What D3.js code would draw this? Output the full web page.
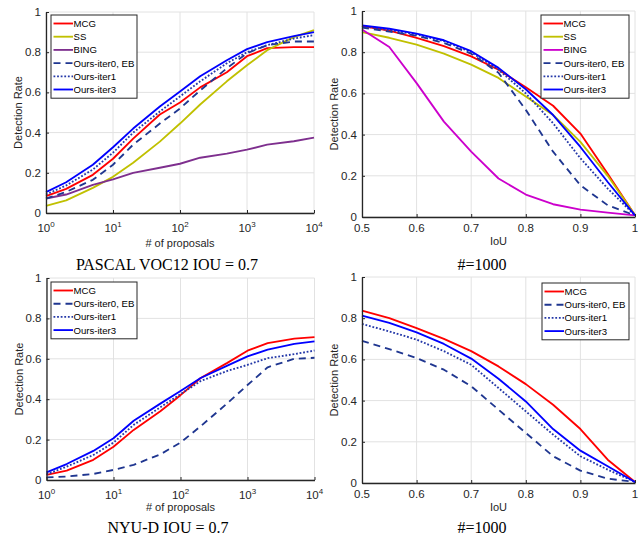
<!DOCTYPE html>
<html>
<head>
<meta charset="utf-8">
<script src="https://cdn.jsdelivr.net/npm/d3@7/dist/d3.min.js"></script>
<style>
  html, body { margin: 0; padding: 0; background: #fff; }
  svg { display: block; }
</style>
</head>
<body>
<svg id="chart" width="644" height="536"></svg>
<script>
// ---------------- DATA ----------------
const proposals = [1, 2, 5, 10, 20, 50, 100, 200, 500, 1000, 2000, 5000, 10000];
const iouValues = [0.5, 0.55, 0.6, 0.65, 0.7, 0.75, 0.8, 0.85, 0.9, 0.95, 1.0];

const logTickValues = [1, 10, 100, 1000, 10000];
const logTickExponents = ["0", "1", "2", "3", "4"];
const iouTickValues = [0.5, 0.6, 0.7, 0.8, 0.9, 1];
const iouTickLabels = ["0.5", "0.6", "0.7", "0.8", "0.9", "1"];
const rateTickValues = [0, 0.2, 0.4, 0.6, 0.8, 1];
const rateTickLabels = ["0", "0.2", "0.4", "0.6", "0.8", "1"];

// PASCAL VOC12, IoU = 0.7, vs # of proposals
const vocPropMCG   = [0.084, 0.12, 0.19, 0.27, 0.37, 0.49, 0.55, 0.625, 0.70, 0.78, 0.82, 0.825, 0.825];
const vocPropSS    = [0.035, 0.063, 0.125, 0.18, 0.25, 0.355, 0.445, 0.54, 0.655, 0.735, 0.81, 0.875, 0.91];
const vocPropBING  = [0.072, 0.092, 0.14, 0.167, 0.20, 0.225, 0.245, 0.275, 0.295, 0.315, 0.34, 0.357, 0.375];
const vocPropIter0 = [0.071, 0.105, 0.165, 0.24, 0.34, 0.445, 0.52, 0.61, 0.72, 0.795, 0.835, 0.853, 0.853];
const vocPropIter1 = [0.092, 0.137, 0.216, 0.30, 0.40, 0.505, 0.58, 0.655, 0.745, 0.80, 0.835, 0.868, 0.885];
const vocPropIter3 = [0.104, 0.153, 0.24, 0.327, 0.42, 0.53, 0.605, 0.68, 0.76, 0.815, 0.85, 0.88, 0.90];

// PASCAL VOC12, # = 1000, vs IoU
const vocIouMCG   = [0.927, 0.905, 0.87, 0.83, 0.78, 0.715, 0.63, 0.54, 0.405, 0.21, 0.008];
const vocIouSS    = [0.897, 0.87, 0.837, 0.793, 0.74, 0.675, 0.585, 0.495, 0.365, 0.20, 0.01];
const vocIouBING  = [0.91, 0.825, 0.65, 0.463, 0.317, 0.187, 0.109, 0.062, 0.036, 0.021, 0.008];
const vocIouIter0 = [0.92, 0.90, 0.88, 0.845, 0.793, 0.70, 0.52, 0.317, 0.154, 0.057, 0.008];
const vocIouIter1 = [0.927, 0.907, 0.886, 0.854, 0.80, 0.715, 0.60, 0.455, 0.285, 0.138, 0.008];
const vocIouIter3 = [0.93, 0.914, 0.89, 0.858, 0.805, 0.724, 0.62, 0.495, 0.34, 0.17, 0.008];

// NYU-D, IoU = 0.7, vs # of proposals
const nyuPropMCG   = [0.025, 0.046, 0.10, 0.165, 0.248, 0.34, 0.42, 0.505, 0.58, 0.64, 0.678, 0.70, 0.707];
const nyuPropIter0 = [0.013, 0.017, 0.03, 0.05, 0.075, 0.127, 0.185, 0.266, 0.38, 0.47, 0.558, 0.60, 0.605];
const nyuPropIter1 = [0.028, 0.066, 0.124, 0.185, 0.273, 0.36, 0.425, 0.49, 0.54, 0.57, 0.603, 0.623, 0.641];
const nyuPropIter3 = [0.038, 0.079, 0.144, 0.207, 0.293, 0.378, 0.441, 0.505, 0.566, 0.612, 0.645, 0.674, 0.686];

// NYU-D, # = 1000, vs IoU
const nyuIouMCG   = [0.837, 0.80, 0.752, 0.70, 0.64, 0.566, 0.48, 0.38, 0.262, 0.113, 0.005];
const nyuIouIter0 = [0.69, 0.65, 0.607, 0.55, 0.47, 0.356, 0.243, 0.13, 0.06, 0.021, 0.005];
const nyuIouIter1 = [0.772, 0.736, 0.696, 0.64, 0.574, 0.461, 0.348, 0.235, 0.13, 0.065, 0.005];
const nyuIouIter3 = [0.812, 0.777, 0.731, 0.675, 0.604, 0.506, 0.396, 0.262, 0.157, 0.081, 0.005];

const xLabelProposals = "# of proposals";
const xLabelIoU = "IoU";
const yLabel = "Detection Rate";
const panelTitles = ["PASCAL VOC12 IOU = 0.7", "#=1000", "NYU-D IOU = 0.7", "#=1000"];

// ---------------- STYLES ----------------
const styleMap = {
  "MCG":            { color: "#ff0000", dash: null },
  "SS":             { color: "#c0c000", dash: null },
  "BING":           { color: "#7e2f8e", dash: null },
  "Ours-iter0, EB": { color: "#1f3690", dash: "7,5" },
  "Ours-iter1":     { color: "#2438a8", dash: "1.8,1.8" },
  "Ours-iter3":     { color: "#0000ff", dash: null }
};
const bingMagenta = "#cc00cc";

const svg = d3.select("#chart");
const FONT = "'Liberation Sans', Arial, Helvetica, sans-serif";
const SERIF = "'Liberation Serif', 'Times New Roman', serif";
const AXIS_COLOR = "#262626";
const GRID_COLOR = "#e2e2e2";
const LINE_W = 1.85;

function drawPanel(cfg) {
  const g = svg.append("g");
  const x = cfg.log
    ? d3.scaleLog().domain([1, 10000]).range([cfg.left, cfg.right])
    : d3.scaleLinear().domain([0.5, 1]).range([cfg.left, cfg.right]);
  const y = d3.scaleLinear().domain([0, 1]).range([cfg.bottom, cfg.top]);
  const xTicks = cfg.log ? logTickValues : iouTickValues;

  // grid
  const grid = g.append("g");
  grid.selectAll("line.vx").data(xTicks).join("line")
    .attr("x1", d => x(d)).attr("x2", d => x(d))
    .attr("y1", cfg.top).attr("y2", cfg.bottom)
    .attr("stroke", GRID_COLOR).attr("stroke-width", 1);
  grid.selectAll("line.hy").data(rateTickValues).join("line")
    .attr("x1", cfg.left).attr("x2", cfg.right)
    .attr("y1", d => y(d)).attr("y2", d => y(d))
    .attr("stroke", GRID_COLOR).attr("stroke-width", 1);

  // series
  const clipId = "clip" + cfg.id;
  g.append("clipPath").attr("id", clipId).append("rect")
    .attr("x", cfg.left - 1).attr("y", cfg.top - 2)
    .attr("width", cfg.right - cfg.left + 2).attr("height", cfg.bottom - cfg.top + 3);
  const line = d3.line().x((d, i) => x(cfg.xs[i])).y(d => y(d));
  const lines = g.append("g").attr("clip-path", `url(#${clipId})`);
  cfg.series.forEach(s => {
    const st = styleMap[s.name];
    const col = (s.name === "BING" && cfg.magentaBing) ? bingMagenta : st.color;
    lines.append("path")
      .attr("d", line(s.values))
      .attr("fill", "none")
      .attr("stroke", col)
      .attr("stroke-width", LINE_W)
      .attr("stroke-dasharray", st.dash)
      .attr("stroke-linejoin", "round");
  });

  // axes
  const xAxis = d3.axisBottom(x).tickValues(xTicks).tickSizeInner(-3).tickSizeOuter(0).tickFormat("");
  const yAxis = d3.axisLeft(y).tickValues(rateTickValues).tickSizeInner(-3).tickSizeOuter(0).tickFormat("");
  const gx = g.append("g").attr("transform", `translate(0,${cfg.bottom})`).call(xAxis);
  const gy = g.append("g").attr("transform", `translate(${cfg.left},0)`).call(yAxis);
  [gx, gy].forEach(a => {
    a.select(".domain").attr("stroke", AXIS_COLOR).attr("stroke-width", 1.3);
    a.selectAll(".tick line").attr("stroke", AXIS_COLOR).attr("stroke-width", 1);
  });

  // x tick labels
  const tl = g.append("g").attr("font-family", FONT).attr("fill", AXIS_COLOR);
  if (cfg.log) {
    logTickValues.forEach((v, i) => {
      const t = tl.append("text")
        .attr("x", x(v)).attr("y", cfg.bottom + 19)
        .attr("text-anchor", "middle").attr("font-size", 11.5);
      t.append("tspan").text("10");
      t.append("tspan").attr("dy", -5).attr("font-size", 8).text(logTickExponents[i]);
    });
  } else {
    iouTickValues.forEach((v, i) => {
      tl.append("text")
        .attr("x", x(v)).attr("y", cfg.bottom + 15)
        .attr("text-anchor", "middle").attr("font-size", 11.5)
        .text(iouTickLabels[i]);
    });
  }
  // y tick labels
  rateTickValues.forEach((v, i) => {
    tl.append("text")
      .attr("x", cfg.left - 5).attr("y", y(v) + 4)
      .attr("text-anchor", "end").attr("font-size", 11.5)
      .text(rateTickLabels[i]);
  });

  // axis labels
  tl.append("text")
    .attr("x", (cfg.left + cfg.right) / 2).attr("y", cfg.xLabelY)
    .attr("text-anchor", "middle").attr("font-size", 11)
    .text(cfg.log ? xLabelProposals : xLabelIoU);
  tl.append("text")
    .attr("transform", `translate(${cfg.left - 24},${(cfg.top + cfg.bottom) / 2}) rotate(-90)`)
    .attr("text-anchor", "middle").attr("font-size", 11)
    .text(yLabel);

  // title (caption)
  g.append("text")
    .attr("x", cfg.titleX).attr("y", cfg.titleY)
    .attr("text-anchor", "middle").attr("font-family", SERIF)
    .attr("font-size", 16).attr("fill", "#000")
    .text(cfg.title);

  // legend
  const L = cfg.legend;
  const rowH = 13.2;
  const lg = g.append("g");
  lg.append("rect")
    .attr("x", L.x).attr("y", L.y).attr("width", L.w)
    .attr("height", rowH * cfg.series.length + 4)
    .attr("fill", "#fff").attr("stroke", AXIS_COLOR).attr("stroke-width", 1);
  cfg.series.forEach((s, i) => {
    const st = styleMap[s.name];
    const col = (s.name === "BING" && cfg.magentaBing) ? bingMagenta : st.color;
    const cy = L.y + 8.5 + i * rowH;
    lg.append("line")
      .attr("x1", L.x + 2.5).attr("x2", L.x + 22)
      .attr("y1", cy).attr("y2", cy)
      .attr("stroke", col).attr("stroke-width", LINE_W)
      .attr("stroke-dasharray", st.dash);
    lg.append("text")
      .attr("x", L.x + 22.5).attr("y", cy + 3.5)
      .attr("font-family", FONT).attr("font-size", 9.6).attr("fill", "#000")
      .text(s.name);
  });
}

drawPanel({
  id: 1, log: true, left: 46, right: 314, top: 12, bottom: 213,
  xs: proposals, xLabelY: 247, titleX: 167, titleY: 270, title: panelTitles[0],
  legend: { x: 51, y: 15, w: 86 },
  series: [
    { name: "MCG", values: vocPropMCG },
    { name: "SS", values: vocPropSS },
    { name: "BING", values: vocPropBING },
    { name: "Ours-iter0, EB", values: vocPropIter0 },
    { name: "Ours-iter1", values: vocPropIter1 },
    { name: "Ours-iter3", values: vocPropIter3 }
  ]
});

drawPanel({
  id: 2, log: false, left: 362, right: 635, top: 11, bottom: 217, magentaBing: true,
  xs: iouValues, xLabelY: 245, titleX: 482, titleY: 270, title: panelTitles[1],
  legend: { x: 541, y: 15, w: 88 },
  series: [
    { name: "MCG", values: vocIouMCG },
    { name: "SS", values: vocIouSS },
    { name: "BING", values: vocIouBING },
    { name: "Ours-iter0, EB", values: vocIouIter0 },
    { name: "Ours-iter1", values: vocIouIter1 },
    { name: "Ours-iter3", values: vocIouIter3 }
  ]
});

drawPanel({
  id: 3, log: true, left: 46.5, right: 314.5, top: 278, bottom: 480,
  xs: proposals, xLabelY: 511, titleX: 168, titleY: 533, title: panelTitles[2],
  legend: { x: 51, y: 282, w: 86 },
  series: [
    { name: "MCG", values: nyuPropMCG },
    { name: "Ours-iter0, EB", values: nyuPropIter0 },
    { name: "Ours-iter1", values: nyuPropIter1 },
    { name: "Ours-iter3", values: nyuPropIter3 }
  ]
});

drawPanel({
  id: 4, log: false, left: 362, right: 635, top: 277, bottom: 483,
  xs: iouValues, xLabelY: 511, titleX: 482, titleY: 533, title: panelTitles[3],
  legend: { x: 542, y: 283, w: 87 },
  series: [
    { name: "MCG", values: nyuIouMCG },
    { name: "Ours-iter0, EB", values: nyuIouIter0 },
    { name: "Ours-iter1", values: nyuIouIter1 },
    { name: "Ours-iter3", values: nyuIouIter3 }
  ]
});
</script>
</body>
</html>
